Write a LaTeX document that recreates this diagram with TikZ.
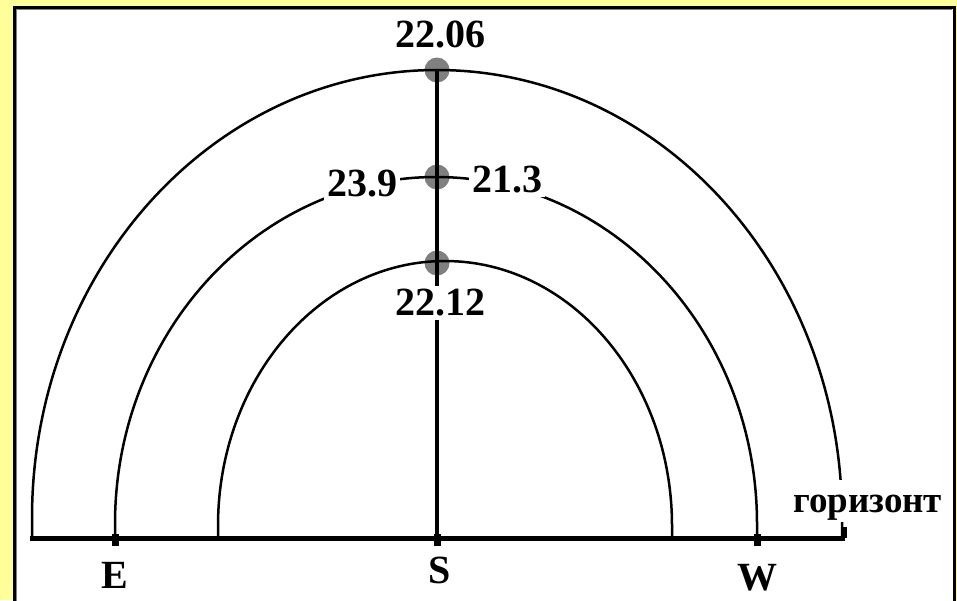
\documentclass[tikz,border=0pt]{standalone}
\usepackage{fontspec}
\setmainfont{Liberation Serif}
\usetikzlibrary{positioning}
\definecolor{paleyellow}{RGB}{255,255,153}
\definecolor{dotgray}{RGB}{128,128,128}

\begin{document}
\begin{tikzpicture}[x=1pt, y=-1pt,
  lbl/.style={font=\fontsize{40}{40}\selectfont\bfseries, fill=white, inner sep=3pt},
  sunpos/.style={circle, fill=dotgray, inner sep=0pt, minimum size=25pt},
  daypath/.style={draw=black, line width=2.5pt},
  tickmark/.style={fill=black, inner sep=0pt, minimum width=7pt, minimum height=12pt}
]
\clip (0,0) rectangle (957,600);
\fill[paleyellow] (0,0) rectangle (957,600);
\filldraw[fill=white, draw=black, line width=3pt] (14.5,7.5) rectangle (954,620);
\draw[dotgray, line width=1pt] (16.5,640) -- (16.5,9.5) -- (952,9.5);

% ---- horizon points ----
\coordinate (hl) at (30,538);
\coordinate (hr) at (845,538);
\coordinate (E)  at (115,538);
\coordinate (S)  at (437,538);
\coordinate (W)  at (757,538);
\coordinate (il) at (218,538);   % inner path, east end
\coordinate (ir) at (672,538);   % inner path, west end
\coordinate (ol) at (32,538);    % outer path, east end
\coordinate (or) at (842,538);   % outer path, west end

% ---- culminations ----
\node[sunpos] (top) at (437,70)  {};
\node[sunpos] (mid) at (437,177) {};
\node[sunpos] (low) at (437,263) {};

% ---- daily paths ----
\draw[daypath] (ol) -- ++(0,-20) arc[start angle=180, end angle=360, x radius=405, y radius=448] -- (or);
\draw[daypath] (E)  -- ++(0,-14) arc[start angle=180, end angle=360, x radius=321, y radius=347] -- (W);
\draw[daypath] (il) -- ++(0,-12) arc[start angle=180, end angle=360, x radius=227, y radius=265] -- (ir);

% ---- meridian and horizon ----
\draw[line width=4pt] (top.center) -- (S);
\draw[line width=5pt] (hl) -- (hr);
\draw[line width=3.5pt] (hr) -- ++(0,-11);
\node[tickmark] (mE) at ([yshift=-2pt]E) {};
\node[tickmark] (mS) at ([yshift=-2pt]S) {};
\node[tickmark] (mW) at ([yshift=-2pt]W) {};

% ---- labels ----
\node[lbl] (t2206) at (440,34)  {22.06};
\node[lbl] (t239)  at (362,184) {23.9};
\node[lbl] (t213)  at (507,180) {21.3};
\node[lbl] (t2212) at (440,303) {22.12};
\node[lbl, fill=none, anchor=base] (tE) at (115,588) {E};
\node[lbl, fill=none, anchor=base] (tS) at (440,583) {S};
\node[lbl, fill=none, anchor=base] (tW) at (757,590) {W};
\node[lbl, anchor=base west, inner sep=2pt, text height=30pt,
  font=\fontsize{37}{37}\selectfont\bfseries] (hor) at (791,512) {горизонт};
\end{tikzpicture}
\end{document}
